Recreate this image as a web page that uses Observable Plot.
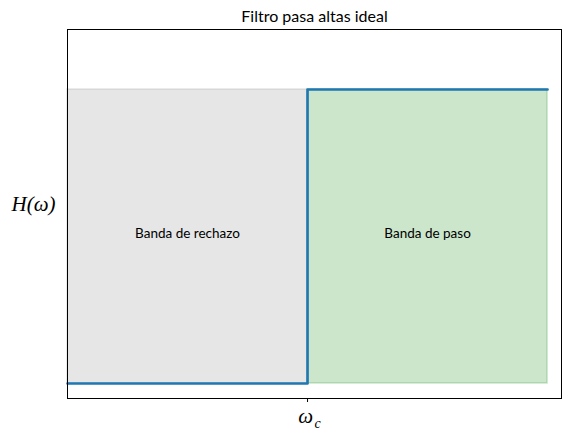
<!DOCTYPE html>
<html><head><meta charset="utf-8">
<script src="https://cdn.jsdelivr.net/npm/d3@7"></script>
<script src="https://cdn.jsdelivr.net/npm/@observablehq/plot@0.6"></script>
<style>body{margin:0;background:#fff}</style>
</head><body><div id="chart"></div>
<script>
const title = "Filtro pasa altas ideal";
const stepX = [0, 1, 1, 2];
const stepY = [0, 0, 1, 1];
const bands = ["Banda de rechazo", "Banda de paso"];
const bandX1 = [0, 1];
const bandX2 = [1, 2];
const bandColors = ["gray", "green"];
const xTicks = [1];
const xTickLabels = [["ω", "c"]];

const lineData = stepX.map((x, i) => ({x, y: stepY[i]}));
const bandData = bands.map((b, i) => ({label: b, x1: bandX1[i], x2: bandX2[i], c: bandColors[i], mid: (bandX1[i] + bandX2[i]) / 2}));
const mathFont = "'Liberation Serif', 'DejaVu Serif', serif";

const plot = Plot.plot({
  width: 572, height: 437,
  marginLeft: 67, marginRight: 11, marginTop: 29, marginBottom: 39,
  x: {domain: [0, 2.058]},
  y: {domain: [-0.051, 1.204]},
  style: {fontFamily: "Lato, 'DejaVu Sans', sans-serif", fontSize: "12px", color: "black"},
  marks: [
    Plot.rect(bandData, {x1: "x1", x2: "x2", y1: 0, y2: 1, fill: d => d.c, fillOpacity: 0.2, stroke: d => d.c, strokeOpacity: 0.2, strokeWidth: 1.5}),
    Plot.line(lineData, {x: "x", y: "y", stroke: "#1f77b4", strokeWidth: 2.6, curve: "linear"}),
    Plot.text(bandData, {x: "mid", y: 0.5, dy: -3, text: "label", fontSize: 13.5, fill: "black"}),
    Plot.frame({stroke: "black", strokeWidth: 1}),
    Plot.axisX({ticks: xTicks, tickSize: 4, tickFormat: () => "", label: null}),
    Plot.axisY({ticks: [], label: null, tickSize: 0}),
    Plot.text([title], {frameAnchor: "top", dy: -8, fontSize: 16, fill: "black", lineAnchor: "bottom"}),
    Plot.text(["H(ω)"], {frameAnchor: "left", dx: -34, dy: -10, textAnchor: "middle", fontSize: 21, fontFamily: mathFont, fontStyle: "italic", fill: "black"}),
    Plot.text(xTicks, {x: d => d, frameAnchor: "bottom", dy: 24, text: (d, i) => xTickLabels[i][0], fontSize: 21, fontFamily: mathFont, fontStyle: "italic", fill: "black", dx: -2}),
    Plot.text(xTicks, {x: d => d, frameAnchor: "bottom", dy: 29, text: (d, i) => xTickLabels[i][1], fontSize: 14, fontFamily: mathFont, fontStyle: "italic", fill: "black", dx: 10})
  ]
});
document.getElementById("chart").appendChild(plot);
</script>
</body></html>
